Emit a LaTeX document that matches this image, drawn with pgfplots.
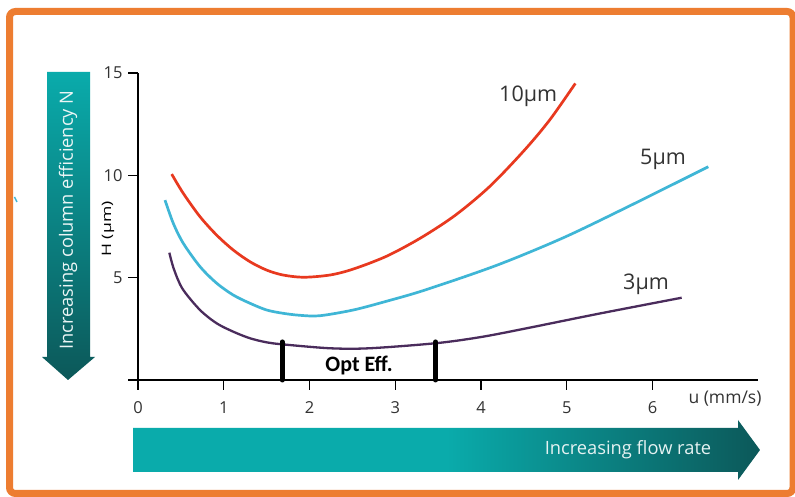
\documentclass[border=0pt]{standalone}
\usepackage{graphicx}
\usepackage{pgfplots}
\pgfplotsset{compat=1.18}
\usepackage{fontspec}
\setmainfont{Open Sans}
\newfontfamily\calibri{Carlito}
\definecolor{frameorange}{HTML}{ED7D31}
\definecolor{c10}{HTML}{E8391F}
\definecolor{c5}{HTML}{3FB6D6}
\definecolor{c3}{HTML}{4A2C5C}
\definecolor{tealA}{HTML}{0AABAB}
\definecolor{tealB}{HTML}{0C5859}
\definecolor{txt}{HTML}{333333}
\pgfdeclarehorizontalshading{flowshade}{100bp}{color(0bp)=(tealA); color(25bp)=(tealA); color(50bp)=(tealA); color(75bp)=(tealB); color(100bp)=(tealB)}
\begin{document}
\begin{tikzpicture}[x=1pt,y=1pt]
\useasboundingbox (0,0) rectangle (795,497);
\fill[white] (0,0) rectangle (795,497);
\draw[frameorange, line width=7, rounded corners=6] (9.5,3.5) rectangle (793,485.5);
\draw[c5, line width=1.5] (14.5,300) -- (17,295);

% vertical arrow
\shade[top color=tealA, bottom color=tealB]
  (47,425) -- (90,425) -- (90,140) -- (95,140) -- (68,117) -- (42,140) -- (47,140) -- cycle;
\node[rotate=90, text=white!92!teal, font=\fontsize{18.3}{20}\selectfont] at (68,277) {Increasing column efficiency N};

% horizontal arrow
\shade[shading=flowshade]
  (133,69) -- (738,69) -- (738,77) -- (760,47) -- (738,17) -- (738,25) -- (133,25) -- cycle;
\node[text=white!90!teal, font=\fontsize{18.3}{20}\selectfont] at (628,47) {Increasing flow rate};

\begin{axis}[
  at={(138pt,117pt)}, anchor=south west,
  scale only axis, width=620pt, height=307pt,
  xmin=0, xmax=7.23, ymin=0, ymax=15,
  axis lines=left,
  axis line style={-, line width=1.3pt, black},
  tick align=outside, major tick length=10pt,
  tick style={line width=1.3pt, black},
  xtick={0,...,6}, ytick={0,5,10,15}, yticklabels={,5,10,15},
  tick label style={font=\fontsize{16.5}{20}\selectfont, text=txt},
  xticklabel style={yshift=-8pt},
  yticklabel style={xshift=-2pt},
  /pgf/number format/assume math mode=true,
  clip=false,
]
\addplot[c10, line width=2.7pt, smooth, tension=0.5] coordinates {
(0.393,10.06) (0.528,9.12) (0.723,7.98) (0.917,7.08) (1.111,6.35) (1.305,5.78)
(1.50,5.37) (1.69,5.13) (1.93,5.02) (2.24,5.13) (2.51,5.42) (2.90,6.05)
(3.30,6.95) (3.70,8.05) (4.10,9.45) (4.50,11.2) (4.80,12.7) (5.10,14.49)};
\addplot[c5, line width=2.7pt, smooth, tension=0.5] coordinates {
(0.315,8.79) (0.412,7.65) (0.528,6.68) (0.723,5.54) (0.917,4.73) (1.111,4.15)
(1.305,3.75) (1.50,3.42) (1.69,3.26) (1.89,3.16) (2.12,3.14) (2.51,3.42)
(2.90,3.85) (3.35,4.40) (4.18,5.60) (4.96,6.95) (5.73,8.50) (6.65,10.42)};
\addplot[c3, line width=2.3pt, smooth, tension=0.5] coordinates {
(0.365,6.22) (0.42,5.40) (0.52,4.45) (0.723,3.42) (0.917,2.77) (1.111,2.36)
(1.305,2.04) (1.50,1.84) (1.69,1.74) (2.24,1.55) (2.70,1.55) (3.48,1.80)
(4.0,2.10) (4.5,2.50) (5.35,3.22) (6.34,4.02)};
\addplot[black, line width=5pt, line cap=round] coordinates {(1.68,0) (1.68,1.86)};
\addplot[black, line width=5pt, line cap=round] coordinates {(3.47,0) (3.47,1.86)};
\end{axis}

\node[anchor=base west, text=txt, font=\fontsize{21.5}{24}\selectfont, inner sep=0] at (499,395) {10µm};
\node[anchor=base west, text=txt, font=\fontsize{21.5}{24}\selectfont, inner sep=0] at (640,332) {5µm};
\node[anchor=base west, text=txt, font=\fontsize{21.5}{24}\selectfont, inner sep=0] at (623,207) {3µm};
\node[anchor=base, font=\calibri\bfseries\fontsize{22}{24}\selectfont, inner sep=0] at (359,125) {Opt Eff.};
\node[rotate=90, text=black, font=\fontsize{13}{16}\selectfont] at (108,268) {\scalebox{1.35}[1]{H (µm)}};
\node[text=txt, font=\fontsize{17.5}{20}\selectfont] at (725,98) {u (mm/s)};
\end{tikzpicture}
\end{document}
